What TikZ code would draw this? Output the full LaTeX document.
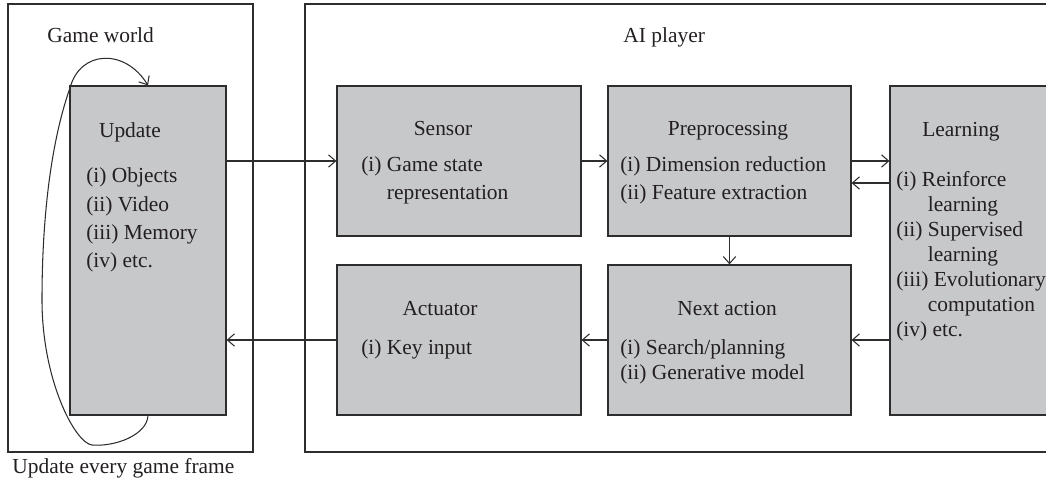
\documentclass[tikz,border=0pt]{standalone}
\usepackage{fontspec}
\setmainfont{Liberation Serif}
\usetikzlibrary{calc,arrows.meta}

\definecolor{boxgray}{RGB}{199,200,202}
\definecolor{linegray}{RGB}{45,45,45}
\definecolor{textgray}{RGB}{35,31,32}

\newcommand\boxitems[1]{\begin{tabular}[t]{@{}l@{}}#1\end{tabular}}

\begin{document}
\begin{tikzpicture}[
  >={Straight Barb[length=4pt,width=7pt]},
  font=\fontsize{12.2}{16}\selectfont, text=textgray,
  frame/.style={draw=linegray, line width=0.8pt},
  block/.style={draw=linegray, fill=boxgray, line width=0.7pt, inner sep=0pt},
  conn/.style={->, draw=linegray, line width=0.6pt},
  title/.style={anchor=base, inner sep=0pt},
  items/.style={anchor=base west, inner sep=0pt},
]
\useasboundingbox (0,0) rectangle (20.92,9.58);
\clip (0,0) rectangle (20.92,9.58);

% outer frames
\draw[frame] (0.16,0.54) rectangle (5.06,9.50);
\draw[frame] (6.10,0.54) rectangle (21.40,9.50);
\node[items] (gwlabel) at (0.94,8.72) {Game world};
\node[items] (ailabel) at (12.46,8.72) {AI player};
\node[items] (framelabel) at (0.24,0.12) {Update every game frame};

% blocks
\node[block, minimum width=3.12cm, minimum height=6.58cm] (update) at (2.96,4.57) {};
\node[block, minimum width=4.88cm, minimum height=3.00cm] (sensor) at (9.18,6.36) {};
\node[block, minimum width=4.86cm, minimum height=3.00cm] (prep) at (14.59,6.36) {};
\node[block, minimum width=4.88cm, minimum height=3.00cm] (act) at (9.18,2.78) {};
\node[block, minimum width=4.86cm, minimum height=3.00cm] (next) at (14.59,2.78) {};
\node[block, minimum width=3.50cm, minimum height=6.58cm] (learn) at (19.55,4.57) {};

% texts in the blocks
\node[title] (updatetitle) at (2.60,6.82) {Update};
\node[items, font=\fontsize{12.2}{16.1}\selectfont] (updateitems) at (1.72,5.92)
  {\boxitems{(i) Objects\\ (ii) Video\\ (iii) Memory\\ (iv) etc.}};

\node[title] (sensortitle) at (8.86,6.86) {Sensor};
\node[items, font=\fontsize{12.2}{15.6}\selectfont] (sensoritems) at (7.22,6.14)
  {\boxitems{(i) Game state\\ \phantom{(i) }representation}};

\node[title] (preptitle) at (14.56,6.86) {Preprocessing};
\node[items, font=\fontsize{12.2}{15.9}\selectfont] (prepitems) at (12.40,6.14)
  {\boxitems{(i) Dimension reduction\\ (ii) Feature extraction}};

\node[title] (acttitle) at (8.80,3.27) {Actuator};
\node[items] (actitems) at (7.22,2.48) {\boxitems{(i) Key input}};

\node[title] (nexttitle) at (14.54,3.27) {Next action};
\node[items, font=\fontsize{12.2}{14.2}\selectfont] (nextitems) at (12.40,2.48)
  {\boxitems{(i) Search/planning\\ (ii) Generative model}};

\node[title] (learntitle) at (19.22,6.84) {Learning};
\node[items, font=\fontsize{12.2}{14.2}\selectfont] (learnitems) at (17.92,5.84)
  {\boxitems{(i) Reinforce\\ \phantom{(ii) }learning\\ (ii) Supervised\\
   \phantom{(ii) }learning\\ (iii) Evolutionary\\ \phantom{(ii) }computation\\ (iv) etc.}};

% connectors
\draw[conn] (update.east |- sensor.west) -- (sensor.west);
\draw[conn] (sensor.east) -- (prep.west);
\draw[conn] (prep.east) -- (prep.east -| learn.west);
\coordinate (back) at ($(prep.east)+(0,-0.44)$);
\draw[conn] (back -| learn.west) -- (back);
\draw[conn] (prep.south) -- (next.north);
\draw[conn] (next.east -| learn.west) -- (next.east);
\draw[conn] (next.west) -- (act.east);
\draw[conn] (act.west) -- (act.west -| update.east);

% update loop
\draw[conn] (update.south) .. controls (2.94,0.88) and (2.30,0.64) .. (1.84,0.68)
  .. controls (1.50,0.72) and (0.84,1.98) .. (0.84,3.58)
  .. controls (0.84,5.58) and (1.10,6.98) .. (1.40,7.82)
  .. controls (1.60,8.58) and (2.50,8.62) .. (update.north);

\end{tikzpicture}
\end{document}
